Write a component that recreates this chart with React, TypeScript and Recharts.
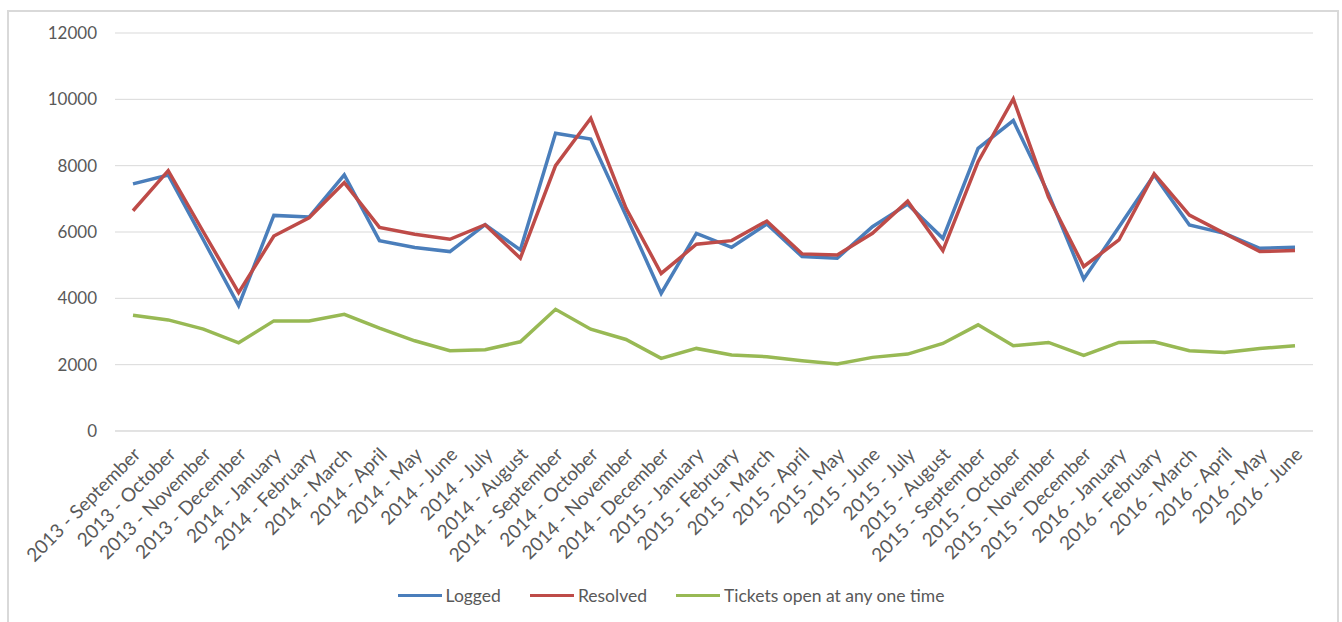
import { CartesianGrid, Line, LineChart, XAxis, YAxis } from "recharts";

const categories = [
  "2013 - September", "2013 - October", "2013 - November", "2013 - December",
  "2014 - January", "2014 - February", "2014 - March", "2014 - April", "2014 - May", "2014 - June",
  "2014 - July", "2014 - August", "2014 - September", "2014 - October", "2014 - November", "2014 - December",
  "2015 - January", "2015 - February", "2015 - March", "2015 - April", "2015 - May", "2015 - June",
  "2015 - July", "2015 - August", "2015 - September", "2015 - October", "2015 - November", "2015 - December",
  "2016 - January", "2016 - February", "2016 - March", "2016 - April", "2016 - May", "2016 - June",
];

const logged = [
  7450, 7720, 5760, 3780, 6500, 6450, 7720, 5740, 5530, 5410, 6220, 5460, 8980, 8800, 6500, 4150,
  5960, 5540, 6240, 5260, 5210, 6160, 6840, 5810, 8520, 9360, 7150, 4580, 6150, 7720, 6210, 5960, 5510, 5540,
];

const resolved = [
  6640, 7850, 6000, 4170, 5880, 6430, 7490, 6140, 5930, 5780, 6220, 5210, 8000, 9430, 6720, 4750,
  5630, 5740, 6330, 5340, 5310, 5960, 6930, 5440, 8120, 10010, 7050, 4960, 5760, 7750, 6510, 5960, 5410, 5440,
];

const openTickets = [
  3490, 3350, 3070, 2660, 3320, 3320, 3520, 3100, 2720, 2420, 2450, 2690, 3670, 3070, 2760, 2190,
  2490, 2290, 2240, 2120, 2020, 2220, 2320, 2640, 3200, 2570, 2670, 2280, 2670, 2690, 2420, 2370, 2490, 2570,
];

const yTicks = [0, 2000, 4000, 6000, 8000, 10000, 12000];

const data = categories.map((month, i) => ({
  month,
  logged: logged[i],
  resolved: resolved[i],
  open: openTickets[i],
}));

const FONT = "Lato, 'Open Sans', sans-serif";
const TEXT = "#595959";
const BLUE = "#4a7ebb";
const RED = "#be4b48";
const GREEN = "#98b954";

function MonthTick({ x, y, payload }: { x?: number; y?: number; payload?: { value: string } }) {
  return (
    <g transform={`translate(${(x ?? 0) + 4},${(y ?? 0) + 12}) rotate(-45)`}>
      <text x={0} y={0} dy="0.35em" textAnchor="end" fill={TEXT} fontSize={19} fontFamily={FONT}>
        {payload?.value}
      </text>
    </g>
  );
}

const legendItems = [
  { label: "Logged", color: BLUE },
  { label: "Resolved", color: RED },
  { label: "Tickets open at any one time", color: GREEN },
];

export default function App() {
  return (
    <div style={{ position: "absolute", left: 0, top: 0, width: 1342, height: 622, background: "#fff", overflow: "hidden" }}>
      <div style={{ position: "absolute", left: 7, top: 10, width: 1328, height: 640, border: "2px solid #d9d9d9" }} />
      <LineChart width={1342} height={622} data={data} margin={{ top: 33, right: 29, left: 0, bottom: 0 }}>
        <CartesianGrid stroke="#d9d9d9" vertical={false} />
        <XAxis
          dataKey="month"
          interval={0}
          height={191}
          padding={{ left: 18, right: 18 }}
          tick={<MonthTick />}
          tickLine={false}
          axisLine={{ stroke: "#d9d9d9" }}
        />
        <YAxis
          width={115}
          domain={[0, 12000]}
          ticks={yTicks}
          tickLine={false}
          axisLine={false}
          tickSize={0}
          tickMargin={18}
          tick={{ fill: TEXT, fontSize: 17, fontFamily: FONT }}
        />
        <Line type="linear" dataKey="logged" stroke={BLUE} strokeWidth={3.5} dot={false} isAnimationActive={false} />
        <Line type="linear" dataKey="resolved" stroke={RED} strokeWidth={3.5} dot={false} isAnimationActive={false} />
        <Line type="linear" dataKey="open" stroke={GREEN} strokeWidth={3.5} dot={false} isAnimationActive={false} />
      </LineChart>
      <div
        style={{
          position: "absolute", left: 0, top: 585, width: 1342, display: "flex", justifyContent: "center",
          gap: 29, fontFamily: FONT, fontSize: 17.5, color: TEXT,
        }}
      >
        {legendItems.map((item) => (
          <div key={item.label} style={{ display: "flex", alignItems: "center", gap: 4 }}>
            <span style={{ display: "inline-block", width: 44, height: 3.5, background: item.color }} />
            <span>{item.label}</span>
          </div>
        ))}
      </div>
    </div>
  );
}
